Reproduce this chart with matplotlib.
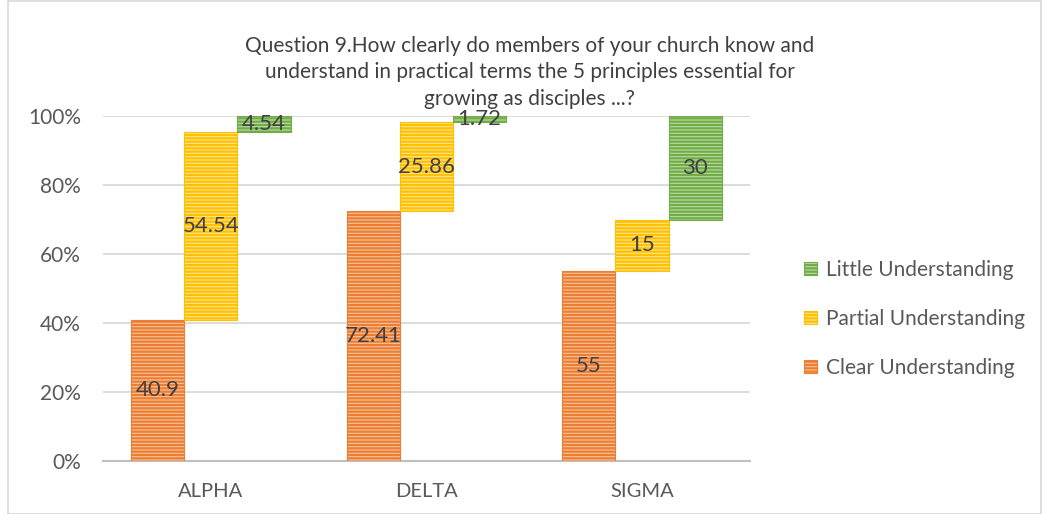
import matplotlib.pyplot as plt
from matplotlib.patches import Rectangle
from matplotlib.ticker import FuncFormatter

plt.rcParams['font.family'] = ['Lato', 'DejaVu Sans']
plt.rcParams['hatch.linewidth'] = 1.6

categories = ["ALPHA", "DELTA", "SIGMA"]
clear = [40.9, 72.41, 55]
partial = [54.54, 25.86, 15]
little = [4.54, 1.72, 30]

series = [
    ("Clear Understanding", clear, "#ED7D31", "#F7C3A0"),
    ("Partial Understanding", partial, "#FFC000", "#FFE594"),
    ("Little Understanding", little, "#70AD47", "#BEDBA8"),
]

fig = plt.figure(figsize=(10.43, 5.14), dpi=100)
ax = fig.add_axes([0.0988, 0.1031, 0.620, 0.6712])

width = 0.247
offsets = [-width, 0, width]
bottoms = [0.0] * len(categories)
handles = []
for (name, vals, dark, light), off in zip(series, offsets):
    xs = [i + off for i in range(len(categories))]
    bars = ax.bar(xs, vals, width=width, bottom=bottoms, color=light,
                  edgecolor=dark, hatch="-----", linewidth=0.8, label=name,
                  zorder=3)
    for x, b, v in zip(xs, bottoms, vals):
        ax.text(x, b + v / 2, f"{v:g}", ha="center", va="center",
                fontsize=16, color="#404040", zorder=4)
    bottoms = [b + v for b, v in zip(bottoms, vals)]
    handles.append(bars)

ax.set_xlim(-0.5, 2.5)
ax.set_ylim(0, 100)
ax.set_yticks(range(0, 101, 20))
ax.yaxis.set_major_formatter(FuncFormatter(lambda v, p: f"{v:.0f}%"))
ax.set_xticks(range(len(categories)))
ax.set_xticklabels(categories)
ax.tick_params(axis="both", length=0, colors="#595959")
ax.tick_params(axis="y", pad=16, labelsize=15)
ax.tick_params(axis="x", pad=16, labelsize=14.5)
ax.grid(axis="y", color="#D9D9D9", linewidth=1.3, zorder=0)
for side in ["left", "right", "top"]:
    ax.spines[side].set_visible(False)
ax.spines["bottom"].set_color("#BFBFBF")
ax.spines["bottom"].set_linewidth(1.5)

leg = fig.legend(handles[::-1], [s[0] for s in series][::-1],
                 loc="center left", bbox_to_anchor=(0.753, 0.38),
                 frameon=False, fontsize=15, handlelength=0.6,
                 handleheight=0.6, handletextpad=0.45, labelspacing=1.4)
for t in leg.get_texts():
    t.set_color("#595959")

fig.text(0.508, 0.93,
         "Question 9.How clearly do members of your church know and\n"
         "understand in practical terms the 5 principles essential for\n"
         "growing as disciples ...?",
         ha="center", va="top", fontsize=15, color="#404040",
         linespacing=1.4)

fig.patches.append(Rectangle((0.008, 0.0), 0.99, 0.998, transform=fig.transFigure,
                             fill=False, edgecolor="#D9D9D9", linewidth=1.2))

fig.savefig("out.png", dpi=100)
